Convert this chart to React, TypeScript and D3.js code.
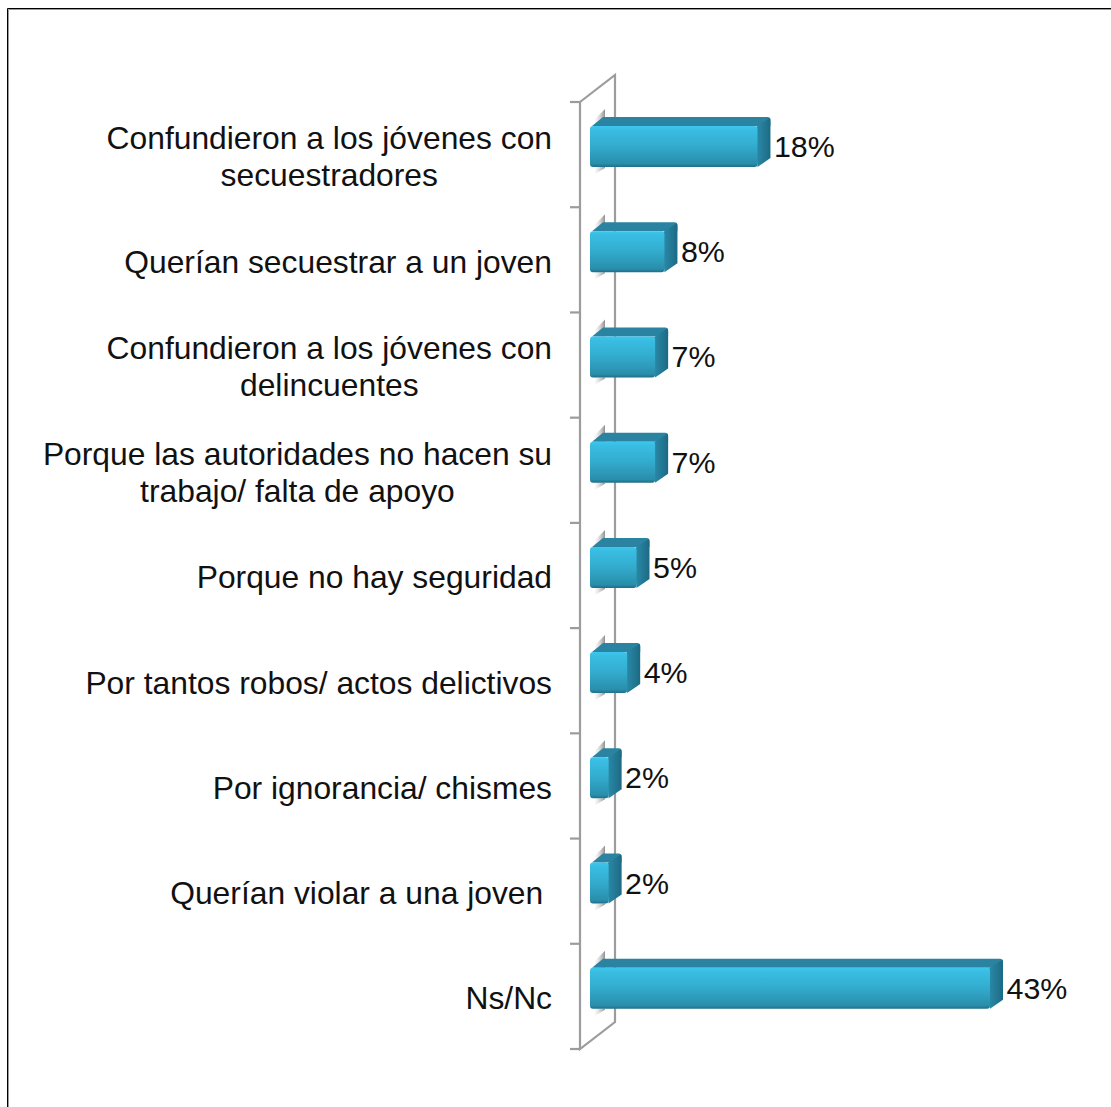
import React from "react";
import * as d3 from "d3";

const categories: string[][] = [
  ["Confundieron a los jóvenes con", "secuestradores"],
  ["Querían secuestrar a un joven"],
  ["Confundieron a los jóvenes con", "delincuentes"],
  ["Porque las autoridades no hacen su", "trabajo/ falta de apoyo"],
  ["Porque no hay seguridad"],
  ["Por tantos robos/ actos delictivos"],
  ["Por ignorancia/ chismes"],
  ["Querían violar a una joven "],
  ["Ns/Nc"],
];
const values = [18, 8, 7, 7, 5, 4, 2, 2, 43];

const FONT = "Liberation Sans, Arial, sans-serif";
const FS = 31.8;
const FS_VAL = 30.4;
const ctx = document.createElement("canvas").getContext("2d")!;
ctx.font = `${FS}px "Liberation Sans"`;

const x = d3.scaleLinear().domain([0, 43]).range([590, 990]);
const y = d3.scaleLinear().domain([0, 9]).range([102, 1049]);
const ticks = d3.range(0, 10);
const DX = 13, DY = 9, BAR_OFF = 24, BAR_H = 41, AX = 580, BX = 615, RIGHT = 552;

export default function App() {
  const base = y(0) - 27;
  return (
    <svg width={1111} height={1107} style={{ position: "absolute", left: 0, top: 0, display: "block" }} fontFamily={FONT}>
      <defs>
        <linearGradient id="front" x1="0" y1="0" x2="0" y2="1">
          <stop offset="0" stopColor="#3cc6ee" />
          <stop offset="0.1" stopColor="#39bde2" />
          <stop offset="0.45" stopColor="#33aed0" />
          <stop offset="0.92" stopColor="#2a8eab" />
          <stop offset="1" stopColor="#1f6e86" />
        </linearGradient>
        <linearGradient id="side" x1="0" y1="0" x2="1" y2="0">
          <stop offset="0" stopColor="#2c8fae" />
          <stop offset="1" stopColor="#1d6a84" />
        </linearGradient>
        <linearGradient id="shadow" x1="0" y1="0" x2="1" y2="0">
          <stop offset="0" stopColor="#e8e8e8" stopOpacity="0.3" />
          <stop offset="1" stopColor="#8f8f8f" />
        </linearGradient>
        <filter id="soft" x="-5%" y="-10%" width="110%" height="120%">
          <feGaussianBlur stdDeviation="0.7" />
        </filter>
      </defs>
      <rect width={1111} height={1107} fill="#fff" />
      <path d="M1111 9.5H8.5V1107" fill="none" stroke="#9a9a9a" strokeWidth={1} />
      <path d="M1111 8.5H7.5V1107" fill="none" stroke="#000" strokeWidth={1} />

      <g fill="none" stroke="#9c9c9c" strokeWidth={2.2}>
        <path d={`M${AX} ${y(0)}L${BX} ${base}V${y(9) - 27}L${AX} ${y(9)}Z`} />
        {ticks.map((t) => (
          <line key={t} x1={AX - 10} x2={AX} y1={y(t)} y2={y(t)} />
        ))}
      </g>

      {values.map((v, i) => {
        const top = y(i) + BAR_OFF;
        const x0 = x(0), x1 = x(v);
        return (
          <g key={i}>
            <g filter="url(#soft)">
              <path d={`M${x0 + 5} ${top - 7}L${x0 + 15} ${top - 17}V${top}H${x0 + 5}Z`} fill="url(#shadow)" />
              <path d={`M${x0 + 5} ${top + BAR_H}H${x0 + 15}V${top + BAR_H + 1}L${x0 + 5} ${top + BAR_H + 7}Z`} fill="url(#shadow)" />
              <path d={`M${x0 + 2} ${top}L${x0 + DX} ${top - DY}H${x1 + DX - 3}Q${x1 + DX} ${top - DY} ${x1 + DX} ${top - DY + 3}V${top}H${x0}Z`} fill="#2a84a1" />
              <path d={`M${x1 - 3} ${top + 2}L${x1 + DX - 1} ${top - DY + 1}Q${x1 + DX} ${top - DY + 1} ${x1 + DX} ${top - DY + 4}V${top + BAR_H - 9}L${x1} ${top + BAR_H}Z`} fill="url(#side)" />
              <rect x={x0} y={top} width={x1 - x0} height={BAR_H} rx={3} fill="url(#front)" />
            </g>
            <text x={x1 + 16.5} y={y(i) + 55} fontSize={FS_VAL} fill="#111">{v}%</text>
          </g>
        );
      })}

      <g fontSize={FS} fill="#111">
        {categories.map((lines, i) => {
          const widths = lines.map((l) => ctx.measureText(l).width);
          const maxW = d3.max(widths)!;
          const mid = y(i) + 65.4;
          return lines.map((l, j) => (
            <text
              key={j}
              x={RIGHT - maxW + (maxW - widths[j]) / 2}
              y={lines.length === 2 ? y(i) + 47 + j * 37 : mid}
              style={{ whiteSpace: "pre" }}
            >
              {l}
            </text>
          ));
        })}
      </g>
    </svg>
  );
}
